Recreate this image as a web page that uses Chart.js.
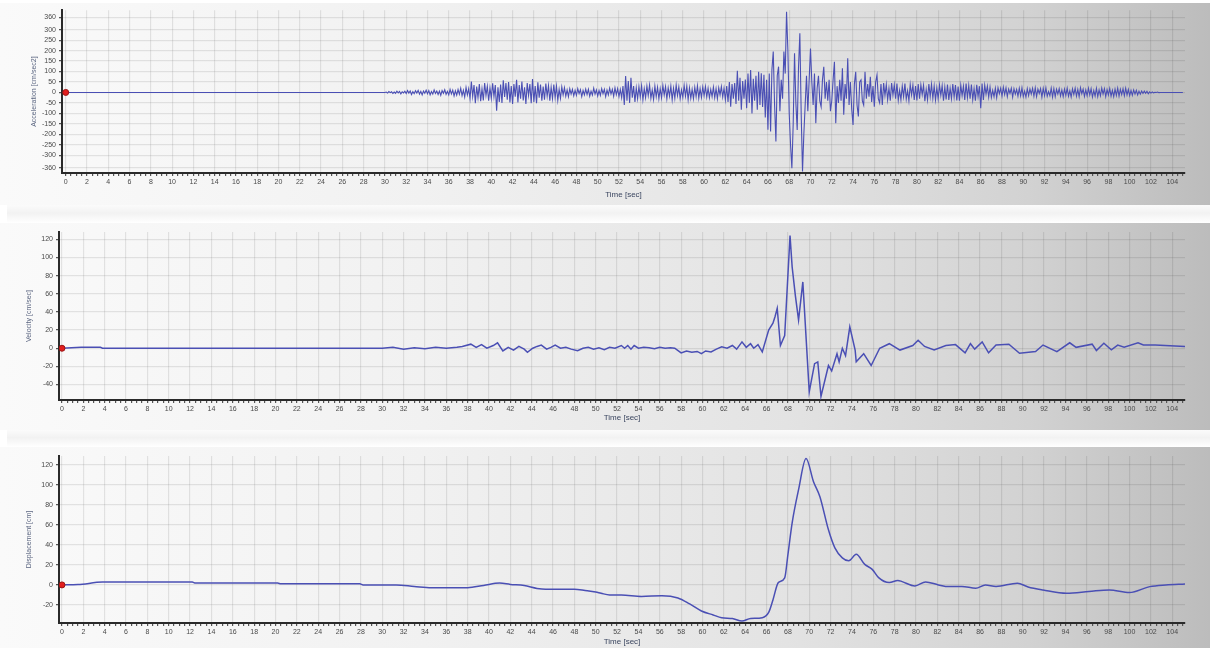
<!DOCTYPE html>
<html>
<head>
<meta charset="utf-8">
<script src="https://cdn.jsdelivr.net/npm/chart.js@4.4.1/dist/chart.umd.min.js"></script>
<style>
  html, body { margin: 0; padding: 0; background: #fff; width: 1210px; height: 648px; overflow: hidden; }
  .panel {
    position: absolute; left: 0; width: 1210px;
    background: linear-gradient(to right, #fafafa 0%, #f1f1f1 35%, #e3e3e3 65%, #d2d2d2 85%, #bcbcbc 100%);
  }
  .band {
    position: absolute; left: 7px; width: 1203px;
    background: linear-gradient(to bottom, #fbfbfb 0%, #f2f2f2 45%, #ffffff 100%);
  }
  canvas { position: absolute; left: 0; top: 0; }
</style>
</head>
<body>
<div class="panel" style="top:3px;height:202px"><canvas id="acc" width="1210" height="202"></canvas></div>
<div class="band" style="top:205px;height:18px"></div>
<div class="panel" style="top:223px;height:207px"><canvas id="vel" width="1210" height="207"></canvas></div>
<div class="band" style="top:430px;height:17px"></div>
<div class="panel" style="top:447px;height:201px"><canvas id="disp" width="1210" height="201"></canvas></div>

<script>
// acceleration record [cm/sec2]: zero until 30 s, then one value every 0.125 s (one row per second)
const accStart = 30;
const accStep = 0.125;
const accValues = [
  0, 2, -3, 4, -1, 3, -5, 2,            // 30
  -4, 6, -2, 5, -7, 3, -2, 6,
  -5, 9, -3, 7, -10, 4, -6, 8,
  -3, 10, -8, 5, -12, 7, -4, 11,
  -6, 9, -12, 4, -8, 12, -5, 7,
  -10, 6, -14, 9, -4, 13, -9, 5,        // 35
  -12, 15, -7, 11, -17, 8, -13, 14,
  -9, 20, -15, 10, -22, 24, -12, 18,
  -30, 52, -20, 35, -52, 28, -25, 40,
  -42, 18, -38, 45, -15, 30, -40, 22,
  -28, 44, -20, 35, -87, 25, -45, 38,   // 40
  -50, 58, -22, 45, -35, 50, -48, 30,
  -55, 40, -20, 60, -48, 35, -30, 52,
  -38, 25, -55, 45, -15, 40, -52, 64,
  -45, 30, -52, 48, -25, 38, -40, 28,
  -35, 42, -18, 32, -40, 25, -30, 38,   // 45
  -25, 30, -38, 15, -28, 26, -12, 22,
  -18, 12, -20, 18, -8, 15, -16, 10,
  -14, 18, -6, 13, -20, 9, -12, 16,
  -10, 15, -18, 6, -13, 20, -8, 12,
  -17, 9, -14, 18, -6, 15, -20, 11,     // 50
  -12, 20, -8, 15, -18, 22, -10, 18,
  -20, 14, -25, 30, -60, 79, -40, 55,
  -50, 70, -25, 30, -45, 22, -30, 28,
  -22, 32, -35, 18, -25, 30, -15, 35,
  -28, 12, -33, 30, -20, 25, -30, 18,   // 55
  -26, 33, -12, 28, -30, 22, -18, 30,
  -35, 20, -28, 35, -15, 26, -30, 12,
  -24, 33, -18, 30, -35, 22, -28, 15,
  -30, 25, -20, 32, -28, 18, -24, 26,
  -15, 28, -22, 20, -26, 14, -20, 25,   // 60
  -25, 18, -30, 22, -12, 28, -22, 20,
  -35, 30, -45, 50, -68, 40, -30, 45,
  -55, 104, -40, 70, -83, 55, -30, 62,
  -75, 90, -50, 107, -100, 65, -40, 80,
  -83, 99, -60, 91, -70, 85, -120, 60,  // 65
  -178, 90, -187, 110, 195, -60, -234, 80,
  123, -90, 60, -30, 195, 90, 385, 200,
  -100, -250, -362, -150, 187, -50, -179, 120,
  283, -100, -378, -200, -60, 80, -90, 60,
  210, 50, -60, 90, -147, 20, 80, -40,  // 70
  -68, 60, 123, -30, 50, -40, 60, -90,
  -40, 60, 147, -147, 30, -50, 60, -40,
  115, -107, 40, -30, 163, -60, 50, -80,
  -155, 40, 99, -60, -115, 50, 60, -40,
  -60, 99, -30, 40, -20, 75, -45, 30,   // 75
  -68, 50, 83, -30, -50, 40, -60, 45,
  -15, 38, -35, 20, -40, 45, -12, 36,
  -30, 42, -38, 10, -35, 30, -20, 42,
  -32, 8, -40, 38, -12, 35, -36, 30,
  -38, 40, -30, 36, -10, 34, -42, 15,   // 80
  -35, 40, -20, 38, -28, 30, -36, 22,
  -30, 36, -14, 32, -40, 25, -33, 38,
  -36, 20, -30, 40, -22, 35, -38, 28,
  -40, 35, -15, 30, -36, 42, -25, 33,
  -30, 38, -35, 18, -40, 36, -20, 30,   // 85
  -75, 42, -36, 35, -8, 30, -22, 26,
  -24, 10, -20, 20, -25, 22, -6, 20,
  -18, 25, -10, 22, -20, 16, -5, 20,
  -22, 18, -8, 15, -18, 20, -16, 22,
  -20, 6, -22, 18, -15, 17, -8, 20,     // 90
  -18, 22, -20, 16, -5, 18, -22, 20,
  -15, 22, -18, 4, -16, 20, -22, 18,
  -20, 15, -8, 18, -17, 12, -20, 16,
  -14, 20, -18, 8, -22, 17, -10, 20,
  -18, 14, -20, 22, -6, 16, -19, 12,    // 95
  -16, 20, -12, 18, -22, 9, -17, 20,
  -20, 12, -16, 21, -8, 18, -20, 14,
  -12, 19, -18, 10, -20, 16, -14, 20,
  -18, 15, -10, 18, -16, 20, -12, 14,
  -15, 10, -14, 12, -8, 10, -12, 6,     // 100
  -8, 7, -5, 6, -4, 5, -6, 3,
  -3, 2, -2, 1, 0, 2, -1, 0,
  0, 0, 0, 0, 0, 0, 0, 0,
  0, 0, 0, 0, 0, 0, 0, 0,
  0                                     // 105
];

// velocity [cm/sec]
const velTimes = [
  0, 1.8, 3.6, 3.8, 30, 31, 32, 33, 34, 35, 36, 37, 37.5, 38.3, 38.8, 39.3, 39.8, 40.4, 40.8, 41.3,
  41.8, 42.3, 42.8, 43.3, 43.6, 44.1, 44.5, 44.9, 45.4, 45.8, 46.2, 46.7, 47.2, 47.7, 48.3, 48.8,
  49.3, 49.8, 50.3, 50.8, 51.3, 51.8, 52.4, 52.7, 53.0, 53.3, 53.6, 54.0, 54.5, 55, 55.5, 56, 56.5,
  57, 57.4, 58.0, 58.5, 59, 59.5, 59.9, 60.3, 60.8, 61.3, 61.8, 62.3, 62.8, 63.2, 63.7, 64.1, 64.5,
  64.8, 65.2, 65.6, 66.2, 66.6, 66.8, 67.0, 67.3, 67.7, 68.2, 68.4, 68.7, 69.0, 69.4, 70.0, 70.5,
  70.8, 71.1, 71.8, 72.1, 72.6, 72.8, 73.1, 73.4, 73.8, 74.3, 74.4, 75.1, 75.8, 76.6, 77.5, 78.5,
  79.7, 80.2, 80.8, 81.7, 82.8, 83.7, 84.6, 85.1, 85.5, 86.2, 86.8, 87.5, 88.7, 89.7, 91.2, 91.9,
  93.2, 94.4, 95.0, 96.5, 96.9, 97.6, 98.3, 98.9, 99.5, 100.8, 101.3, 102.4, 105.2
];
const velValues = [
  0, 1, 1, 0, 0, 1, -1, 0.5, -0.5, 1, 0, 1, 2, 4.5, 1, 4, 0, 3, 6, -3,
  1, -2, 2, -1, -4.5, 0, 2, 3.5, -1, 1, 3.5, 0, 1, -1, -2.7, 0,
  1, -1, 0.5, -1.5, 1, 0, 3, 0, 3, -1, 3, 0, 1, 0.5, -0.5, 1, 0,
  0.5, 0, -5.2, -3, -4.5, -3.5, -5.9, -3, -4, -1, 1.5, 0, 3, -1, 7, 1, 5,
  0, 4, -4, 20, 27.5, 35, 44, 3, 14, 124, 89.5, 58, 31, 73, -48, -17,
  -15, -53, -19, -25, -6, -15, 0, -8, 23.5, -2, -15, -6, -19, 0, 5, -2,
  3, 8.8, 2, -2, 3, 4, -5, 5, -1, 7, -5, 3.5, 4.5, -5.5, -3.7, 3.5,
  -3.7, 6, 1, 4.5, -2.5, 5.5, -1.8, 3.5, 1, 6, 3.5, 3.7, 2
];

// displacement [cm]
const dispTimes = [
  0, 1.5, 3.8, 12.2, 12.5, 20.2, 20.5, 27.9, 28.2, 31.3, 33, 34.6, 38, 39.5, 41, 42, 43.3, 44.5,
  45.3, 48, 49, 50, 50.5, 51.3, 52.4, 54.3, 56.2, 57.7, 58.8, 59.9, 61, 61.8, 62.8, 63.7, 64.5,
  65.6, 66.2, 66.6, 67.1, 67.7, 68.0, 68.4, 69.0, 69.7, 70.4, 71.0, 71.8, 72.4, 73.1, 73.7, 74.4,
  75.2, 75.9, 76.5, 77.5, 78.3, 78.7, 79.9, 80.9, 82.1, 83.1, 84.3, 85.6, 86.5, 87.5, 89.5, 90.5,
  91.9, 94.1, 96.2, 98.1, 100, 101.9, 103.4, 105.2
];
const dispValues = [
  0, 0.3, 2.8, 2.8, 1.8, 1.8, 1.1, 1.1, 0, 0, -1.5, -2.8, -2.8, -0.5, 1.8, 0.5, -0.7, -3.5,
  -4.3, -4.3, -5.5, -7, -8.3, -10, -10, -11.5, -10.8, -13, -19, -26, -30, -32.7, -33.5, -36, -33.5,
  -32.7, -27.5, -15, 2.3, 7, 30, 62, 95, 126, 103, 88, 55, 37, 27, 24, 30.5,
  20.5, 15.5, 7.3, 2.3, 4.5, 3.3, -1, 3, 0, -1.7, -1.5, -3.3, 0, -1.5, 1.7, -2,
  -5, -8.3, -6.6, -5, -7.6, -1.7, 0, 1
];

// tick values
const accTicks = [360, 300, 250, 200, 150, 100, 50, 0, -50, -100, -150, -200, -250, -300, -360];
const velTicks = [120, 100, 80, 60, 40, 20, 0, -20, -40];
const dispTicks = [120, 100, 80, 60, 40, 20, 0, -20];

const accPoints = [{x: 0, y: 0}].concat(accValues.map((v, i) => ({x: accStart + i * accStep, y: v})));
const velPoints = velTimes.map((t, i) => ({x: t, y: velValues[i]}));
const dispPoints = dispTimes.map((t, i) => ({x: t, y: dispValues[i]}));

const FONT = "'Liberation Sans', Arial, sans-serif";
const GRID = 'rgba(0,0,0,0.09)';

function makeChart(id, cfg) {
  new Chart(document.getElementById(id), {
    type: 'line',
    data: {
      datasets: [
        {
          data: [{x: 0, y: 0}],
          showLine: false,
          pointRadius: 3,
          backgroundColor: '#e21d1d',
          borderColor: '#9a1414',
          borderWidth: 1
        },
        {
          data: cfg.points,
          borderColor: '#4a4fb4',
          borderWidth: cfg.lineWidth,
          pointRadius: 0,
          cubicInterpolationMode: cfg.smooth ? 'monotone' : 'default',
          tension: 0,
          fill: false
        }
      ]
    },
    options: {
      responsive: false,
      animation: false,
      layout: { padding: { top: cfg.padTop, right: 25, bottom: 0, left: 0 } },
      plugins: { legend: { display: false }, tooltip: { enabled: false } },
      scales: {
        x: {
          type: 'linear',
          min: cfg.xMin,
          max: 105.2,
          afterBuildTicks: (scale) => {
            const ticks = [];
            for (let v = 0; v <= 105; v += 0.5) ticks.push({value: v});
            scale.ticks = ticks;
          },
          afterFit: (scale) => { scale.height = cfg.xHeight; },
          ticks: {
            autoSkip: false,
            maxRotation: 0,
            padding: 2,
            color: '#4a4a4a',
            font: { family: FONT, size: 7 },
            callback: (v) => (v % 2 === 0 ? String(v) : '')
          },
          grid: {
            color: (c) => (c.tick && c.tick.value % 2 === 0 ? GRID : 'rgba(0,0,0,0)'),
            lineWidth: 1.2,
            tickLength: 3,
            tickColor: '#555'
          },
          border: { color: '#2a2a2a', width: 2 },
          title: {
            display: true,
            text: 'Time [sec]',
            color: '#3b4660',
            font: { family: FONT, size: 8 },
            padding: { top: 0, bottom: cfg.titlePad }
          }
        },
        y: {
          min: cfg.yMin,
          max: cfg.yMax,
          afterBuildTicks: (scale) => { scale.ticks = cfg.yTicks.map((v) => ({value: v})); },
          afterFit: (scale) => { scale.width = cfg.yWidth; },
          ticks: {
            padding: 3,
            color: '#4a4a4a',
            font: { family: FONT, size: 7 }
          },
          grid: { color: GRID, lineWidth: 1.2, tickLength: 3, tickColor: '#555' },
          border: { color: '#2a2a2a', width: 2 },
          title: {
            display: true,
            text: cfg.yTitle,
            color: '#5a6580',
            font: { family: FONT, size: 7 },
            padding: { top: cfg.yTitlePad, bottom: 0 }
          }
        }
      }
    }
  });
}

makeChart('acc', {
  points: accPoints, lineWidth: 1.1, smooth: false,
  xMin: -0.35, yMin: -385, yMax: 393, yTicks: accTicks,
  yWidth: 62, xHeight: 32, padTop: 7, titlePad: 5,
  yTitle: 'Acceleration [cm/sec2]', yTitlePad: 30
});
makeChart('vel', {
  points: velPoints, lineWidth: 1.5, smooth: false,
  xMin: -0.28, yMin: -57, yMax: 128, yTicks: velTicks,
  yWidth: 59, xHeight: 30, padTop: 9, titlePad: 7,
  yTitle: 'Velocity [cm/sec]', yTitlePad: 25
});
makeChart('disp', {
  points: dispPoints, lineWidth: 1.5, smooth: true,
  xMin: -0.28, yMin: -38, yMax: 128.6, yTicks: dispTicks,
  yWidth: 59, xHeight: 25, padTop: 9, titlePad: 1,
  yTitle: 'Displacement [cm]', yTitlePad: 25
});
</script>
</body>
</html>
